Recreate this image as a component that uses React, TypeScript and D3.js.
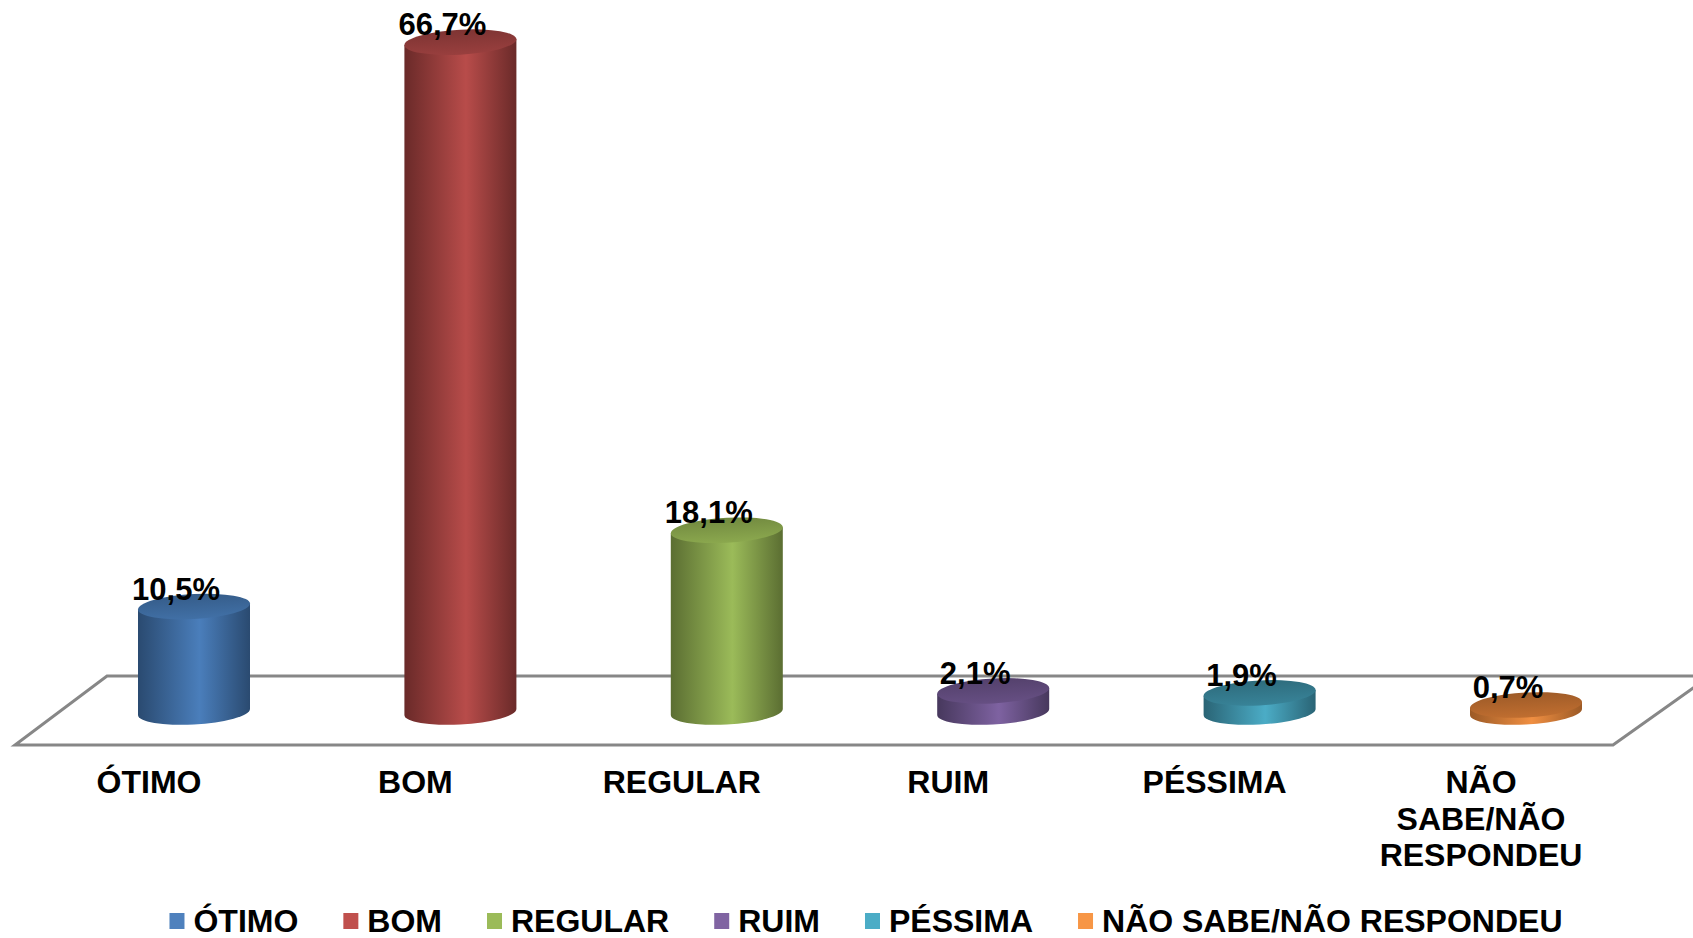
import * as d3 from 'd3';
import { useEffect, useRef } from 'react';

const categories = ['ÓTIMO', 'BOM', 'REGULAR', 'RUIM', 'PÉSSIMA', 'NÃO SABE/NÃO RESPONDEU'];
const axisLabels = [['ÓTIMO'], ['BOM'], ['REGULAR'], ['RUIM'], ['PÉSSIMA'], ['NÃO', 'SABE/NÃO', 'RESPONDEU']];
const values = [10.5, 66.7, 18.1, 2.1, 1.9, 0.7];
const valueLabels = ['10,5%', '66,7%', '18,1%', '2,1%', '1,9%', '0,7%'];
const baseColors = ['#4f81bd', '#c0504d', '#9bbb59', '#8064a2', '#4bacc6', '#f79646'];
const sideMid = ['#4a7ebb', '#b84c4a', '#9bbb59', '#7e62a1', '#4bacc6', '#f08f42'];
const sideEdge = ['#2a4a70', '#6a2a29', '#5b6e32', '#47385d', '#2a6475', '#9c5a26'];
const topFace = ['#3b6698', '#8c3a39', '#7f9a47', '#5d4878', '#33788b', '#b0652c'];

const W = 1693;
const H = 938;
const FONT = '"Liberation Sans", Arial, sans-serif';

export default function App() {
	const ref = useRef<SVGSVGElement>(null);

	useEffect(() => {
		const svg = d3.select(ref.current);
		svg.selectAll('*').remove();

		// шкалы
		const x = d3.scaleBand<string>().domain(categories).range([60.8, 1659.2]);
		const y = d3.scaleLinear().domain([0, 70]).range([712, 9]);
		const rx = 56;
		const ry = 12.5;

		const defs = svg.append('defs');
		categories.forEach((_, i) => {
			const g = defs
				.append('linearGradient')
				.attr('id', `side${i}`)
				.attr('x1', 0)
				.attr('x2', 1)
				.attr('y1', 0)
				.attr('y2', 0);
			g.append('stop').attr('offset', '0%').attr('stop-color', sideEdge[i]);
			g.append('stop').attr('offset', '55%').attr('stop-color', sideMid[i]);
			g.append('stop').attr('offset', '100%').attr('stop-color', sideEdge[i]);
			const t = defs
				.append('linearGradient')
				.attr('id', `top${i}`)
				.attr('x1', 0)
				.attr('x2', 0)
				.attr('y1', 0)
				.attr('y2', 1);
			t.append('stop').attr('offset', '0%').attr('stop-color', d3.color(topFace[i])!.darker(0.3).toString());
			t.append('stop').attr('offset', '100%').attr('stop-color', d3.color(topFace[i])!.brighter(0.25).toString());
		});

		// пол
		svg
			.append('polygon')
			.attr('points', '107,676 1710,676 1613,745 15,745')
			.attr('fill', '#fff')
			.attr('stroke', '#878787')
			.attr('stroke-width', 3);

		// цилиндры
		categories.forEach((c, i) => {
			const cx = x(c)! + x.bandwidth() / 2;
			const yb = y(0);
			const yt = y(values[i]);
			const g = svg
				.append('g')
				.attr('transform', `translate(${cx},0) skewY(-3) translate(${-cx},0)`);
			g.append('path')
				.attr(
					'd',
					`M${cx - rx},${yt} L${cx - rx},${yb} A${rx},${ry} 0 0 0 ${cx + rx},${yb} L${cx + rx},${yt} Z`
				)
				.attr('fill', `url(#side${i})`);
			g.append('ellipse')
				.attr('cx', cx)
				.attr('cy', yt)
				.attr('rx', rx)
				.attr('ry', ry)
				.attr('fill', `url(#top${i})`);
		});

		// подписи значений
		categories.forEach((c, i) => {
			const cx = x(c)! + x.bandwidth() / 2;
			svg
				.append('text')
				.attr('x', cx - 18)
				.attr('y', y(values[i]) - 7)
				.attr('text-anchor', 'middle')
				.attr('font-family', FONT)
				.attr('font-weight', 'bold')
				.attr('font-size', 31)
				.attr('fill', '#000')
				.text(valueLabels[i]);
		});

		// подписи категорий
		categories.forEach((c, i) => {
			const cx = x(c)! + x.bandwidth() / 2 - 45;
			const t = svg
				.append('text')
				.attr('text-anchor', 'middle')
				.attr('font-family', FONT)
				.attr('font-weight', 'bold')
				.attr('font-size', 32)
				.attr('fill', '#000');
			axisLabels[i].forEach((line, j) => {
				t.append('tspan').attr('x', cx).attr('y', 793 + j * 36.5).text(line);
			});
		});

		// легенда
		const leg = svg.append('g');
		let lx = 0;
		categories.forEach((c, i) => {
			leg
				.append('rect')
				.attr('x', lx)
				.attr('y', 913)
				.attr('width', 15)
				.attr('height', 16)
				.attr('fill', baseColors[i]);
			const t = leg
				.append('text')
				.attr('x', lx + 24)
				.attr('y', 932)
				.attr('font-family', FONT)
				.attr('font-weight', 'bold')
				.attr('font-size', 32)
				.attr('fill', '#000')
				.text(c);
			const w = (t.node() as SVGTextElement).getComputedTextLength();
			lx += 24 + w + 45;
		});
		const total = lx - 45;
		leg.attr('transform', `translate(${866 - total / 2},0)`);
	}, []);

	return (
		<svg
			ref={ref}
			width={W}
			height={H}
			style={{ position: 'absolute', left: 0, top: 0, background: '#fff' }}
		/>
	);
}
